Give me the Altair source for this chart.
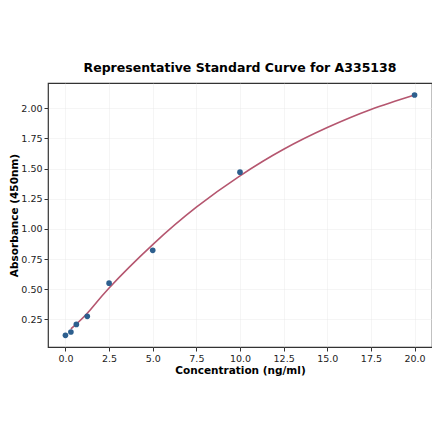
import pandas as pd
import altair as alt

# standard points
conc = [0, 0.3125, 0.625, 1.25, 2.5, 5, 10, 20]
absorb = [0.117, 0.145, 0.208, 0.275, 0.55, 0.822, 1.47, 2.11]

# fitted curve, read at a few places along the line
curve_x = [0.3125, 1.25, 2.5, 5, 7.5, 10, 12.5, 15, 17.5, 20]
curve_y = [0.17, 0.30, 0.51, 0.87, 1.18, 1.44, 1.66, 1.84, 1.99, 2.11]

x_ticks = [0, 2.5, 5, 7.5, 10, 12.5, 15, 17.5, 20]
y_ticks = [0.25, 0.5, 0.75, 1.0, 1.25, 1.5, 1.75, 2.0]

points = pd.DataFrame({"conc": conc, "abs": absorb})
fit = pd.DataFrame({"conc": curve_x, "abs": curve_y})

font = "DejaVu Sans"

x_enc = alt.X("conc:Q", title="Concentration (ng/ml)",
              scale=alt.Scale(domain=[-1, 21], nice=False, zero=False),
              axis=alt.Axis(values=x_ticks, format=".1f", labelOverlap=False))
y_enc = alt.Y("abs:Q", title="Absorbance (450nm)",
              scale=alt.Scale(domain=[0.0205, 2.2095], nice=False, zero=False),
              axis=alt.Axis(values=y_ticks, format=".2f", labelOverlap=False,
                            titleX=-34, titleY=132,
                            titleAlign="center", titleBaseline="middle", titleAngle=270))

line = alt.Chart(fit).mark_line(color="#b5566f", strokeWidth=1.6, interpolate="natural").encode(
    x=x_enc, y=y_enc)
dots = alt.Chart(points).mark_circle(color="#2d5f8e", size=32, opacity=1).encode(
    x=x_enc, y=y_enc)

chart = (line + dots).properties(
    width=384, height=264,
    title=alt.TitleParams("Representative Standard Curve for A335138", font=font,
                          fontSize=12.5, fontWeight="bold", color="#000", offset=9),
    autosize=alt.AutoSizeParams(type="none"),
    padding={"left": 40, "top": 75, "right": 0, "bottom": 86},
).configure_view(stroke="#333", strokeWidth=1.2).configure_axis(
    labelFont=font, labelFontSize=9.5, labelColor="#222",
    titleFont=font, titleFontSize=10.5, titleFontWeight="bold", titleColor="#000",
    domain=False, tickColor="#333", tickSize=4,
    grid=True, gridColor="#e6e6e6", gridWidth=0.6, gridOpacity=0.7,
    labelPadding=2,
).configure_axisX(titlePadding=3)

chart.save("out.html", embed_options={"renderer": "svg", "actions": False})
